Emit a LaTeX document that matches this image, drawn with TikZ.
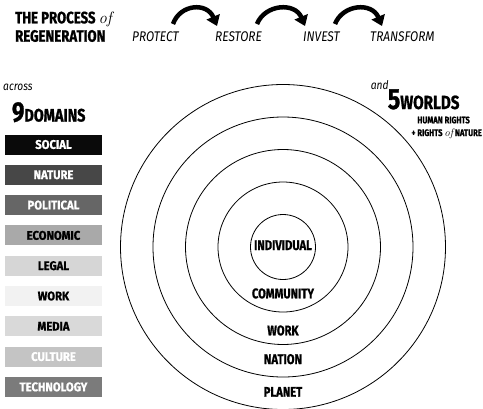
\documentclass[tikz,border=0pt]{standalone}
\usepackage{fontspec}
\usetikzlibrary{arrows.meta}
\newfontfamily\blk{Fira Sans}[FakeStretch=0.8, BoldFeatures={FakeBold=1}]
\newfontfamily\blkw{Fira Sans}[FakeStretch=0.9, BoldFeatures={FakeBold=1}]
\newfontfamily\isf{Fira Sans}[FakeStretch=0.85]
\definecolor{dSocial}{HTML}{0A0A0A}
\definecolor{dNature}{HTML}{474747}
\definecolor{dPolitical}{HTML}{666666}
\definecolor{dEconomic}{HTML}{A9A9A9}
\definecolor{dLegal}{HTML}{D6D6D6}
\definecolor{dWork}{HTML}{F2F2F2}
\definecolor{dMedia}{HTML}{D9D9D9}
\definecolor{dCulture}{HTML}{C4C4C4}
\definecolor{dTech}{HTML}{7B7B7B}
\begin{document}
\begin{tikzpicture}[x=1pt,y=-1pt,
  dom/.style={minimum width=97pt, minimum height=20pt, inner sep=0pt, font=\blkw\bfseries\fontsize{12.5}{12.5}\selectfont},
  ring/.style={circle, draw, line width=0.8pt, inner sep=0pt},
  rlab/.style={font=\blk\bfseries\fontsize{14}{14}\selectfont, anchor=base, inner sep=0pt},
  proc/.style={font=\isf\itshape\fontsize{14}{14}\selectfont, anchor=base west, inner sep=0pt},
  head/.style={font=\blk\bfseries\fontsize{16.5}{16.5}\selectfont, anchor=base west, inner sep=0pt},
  flow/.style={line width=4.5pt, -{Triangle[width=14pt,length=10pt]}}
]
\useasboundingbox (0,0) rectangle (483,408);
% title
\node[head] (t1) at (15,23.3) {THE PROCESS {\rmfamily\itshape\mdseries of}};
\node[head] (t2) at (15,41.7) {REGENERATION};
% process steps
\node[proc] (s1) at (132,41.7) {PROTECT};
\node[proc] (s2) at (215,41.7) {RESTORE};
\node[proc] (s3) at (303,41.7) {INVEST};
\node[proc] (s4) at (370,41.7) {TRANSFORM};
\coordinate (a1s) at (173,24); \coordinate (a1e) at (217,26);
\coordinate (a2s) at (257,24); \coordinate (a2e) at (305,26);
\coordinate (a3s) at (335,24); \coordinate (a3e) at (382,26);
\draw[flow] (a1s) .. controls (180,4) and (207,2) .. (a1e);
\draw[flow] (a2s) .. controls (265,4) and (295,2) .. (a2e);
\draw[flow] (a3s) .. controls (343,4) and (372,2) .. (a3e);
% domains
\node[font=\isf\itshape\fontsize{12}{12}\selectfont, anchor=base west, inner sep=0pt] (acr) at (3,90.7) {across};
\node[font=\blk\bfseries, anchor=base west, inner sep=0pt] (nine) at (11.7,121.5) {{\fontsize{28}{28}\selectfont 9}{\fontsize{18}{18}\selectfont DOMAINS}};
\node[dom, fill=dSocial, text=white] (d1) at (53.5,144.5) {SOCIAL};
\node[dom, fill=dNature, text=white] (d2) at (53.5,174.8) {NATURE};
\node[dom, fill=dPolitical, text=white] (d3) at (53.5,205.1) {POLITICAL};
\node[dom, fill=dEconomic, text=black] (d4) at (53.5,235.4) {ECONOMIC};
\node[dom, fill=dLegal, text=black] (d5) at (53.5,265.7) {LEGAL};
\node[dom, fill=dWork, text=black] (d6) at (53.5,296) {WORK};
\node[dom, fill=dMedia, text=black] (d7) at (53.5,326.3) {MEDIA};
\node[dom, fill=dCulture, text=white] (d8) at (53.5,356.6) {CULTURE};
\node[dom, fill=dTech, text=white] (d9) at (53.5,386.9) {TECHNOLOGY};
% worlds
\node[font=\isf\itshape\fontsize{12}{12}\selectfont, anchor=base west, inner sep=0pt] (and) at (370.7,89) {and};
\node[font=\blk\bfseries, anchor=base west, inner sep=0pt] (five) at (387.7,109) {{\fontsize{29}{29}\selectfont 5}{\fontsize{19}{19}\selectfont WORLDS}};
\node[font=\blk\bfseries\fontsize{9.5}{9.5}\selectfont, anchor=base east, inner sep=0pt] (hr) at (470,123.3) {HUMAN RIGHTS};
\node[font=\blk\bfseries\fontsize{9.5}{9.5}\selectfont, anchor=base east, inner sep=0pt] (rn) at (482,136) {+ RIGHTS {\rmfamily\itshape\mdseries\fontsize{11}{11}\selectfont of} NATURE};
% rings
\node[ring, minimum size=325pt] (r5) at (283,247) {};
\node[ring, minimum size=260pt] (r4) at (283,247) {};
\node[ring, minimum size=195pt] (r3) at (283,247) {};
\node[ring, minimum size=130pt] (r2) at (283,247) {};
\node[ring, minimum size=65pt] (r1) at (283,247) {};
\node[rlab] (l1) at (283,250) {INDIVIDUAL};
\node[rlab] (l2) at (283,298.3) {COMMUNITY};
\node[rlab] (l3) at (283,335.3) {WORK};
\node[rlab] (l4) at (283,364) {NATION};
\node[rlab] (l5) at (283,396.7) {PLANET};
\end{tikzpicture}
\end{document}
